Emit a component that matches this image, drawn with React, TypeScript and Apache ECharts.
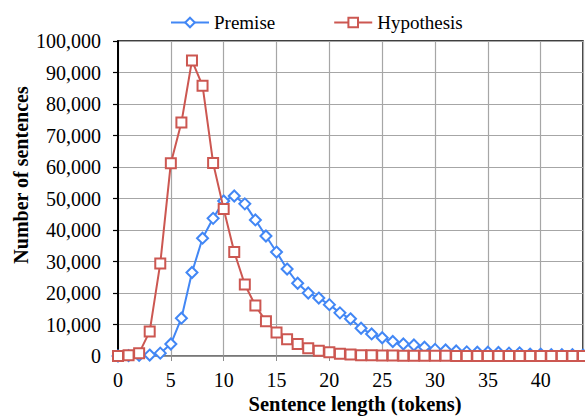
import React, { useEffect, useRef } from "react";
import * as echarts from "echarts";

const lengths = Array.from({ length: 45 }, (_, i) => i);
const premise = [
  0, 100, 200, 300, 900, 3800, 12000, 26500, 37400, 43700, 49200, 50800, 48300, 43200, 38100, 33000,
  27600, 23100, 20000, 18400, 16300, 13700, 11800, 8800, 7000, 5800, 4600, 3800, 3500, 2800, 2100,
  1900, 1600, 1300, 1200, 1200, 1100, 900, 1000, 600, 600, 400, 400, 400, 300,
];
const hypothesis = [
  0, 200, 900, 7800, 29400, 61200, 74100, 93800, 85800, 61300, 46700, 33000, 22700, 16000, 11000, 7500,
  5300, 3800, 2500, 1700, 1200, 700, 450, 250, 200, 150, 120, 100, 80, 60, 50, 40, 30, 30, 20, 20, 20,
  10, 10, 10, 10, 10, 10, 10, 10,
];
const xTicks = [0, 5, 10, 15, 20, 25, 30, 35, 40];

const FONT = "Liberation Serif";

export default function App() {
  const ref = useRef<HTMLDivElement>(null);
  useEffect(() => {
    const chart = echarts.init(ref.current!, null, { renderer: "svg" });
    chart.setOption({
      animation: false,
      backgroundColor: "#fff",
      textStyle: { fontFamily: FONT },
      legend: {
        left: 165,
        top: 8,
        itemWidth: 38,
        itemHeight: 12,
        itemGap: 58,
        textStyle: { fontFamily: FONT, fontSize: 19, color: "#000" },
        data: ["Premise", "Hypothesis"],
      },
      grid: {
        left: 118,
        right: 2,
        top: 41,
        bottom: 60,
        show: true,
        borderColor: "#000",
        borderWidth: 1.5,
      },
      xAxis: {
        type: "value",
        min: 0,
        max: 44,
        interval: 5,
        axisLine: { show: true, onZero: false, lineStyle: { color: "#8c8c8c", width: 1.5 } },
        axisTick: { show: true, length: 5, lineStyle: { color: "#8c8c8c" } },
        axisLabel: {
          showMaxLabel: false,
          margin: 14,
          fontFamily: FONT,
          fontSize: 20,
          color: "#000",
          formatter: (v: number) => (xTicks.includes(v) ? String(v) : ""),
        },
        splitLine: { show: true, lineStyle: { color: "#a6a6a6", width: 1.2 } },
      },
      yAxis: {
        type: "value",
        min: 0,
        max: 100000,
        interval: 10000,
        axisLine: { show: true, lineStyle: { color: "#000", width: 2 } },
        axisTick: { show: true, length: 5, lineStyle: { color: "#000", width: 1.2 } },
        axisLabel: {
          margin: 17,
          fontFamily: FONT,
          fontSize: 20,
          color: "#000",
          formatter: (v: number) => v.toLocaleString("en-US"),
        },
        splitLine: { show: true, lineStyle: { color: "#a6a6a6", width: 1.2 } },
      },
      graphic: [
        {
          type: "text",
          x: 355,
          y: 404,
          style: {
            text: "Sentence length (tokens)",
            font: `bold 20.5px ${FONT}`,
            fill: "#000",
            align: "center",
            verticalAlign: "middle",
          },
        },
        {
          type: "text",
          x: 21,
          y: 175,
          rotation: Math.PI / 2,
          style: {
            text: "Number of sentences",
            font: `bold 20px ${FONT}`,
            fill: "#000",
            align: "center",
            verticalAlign: "middle",
          },
        },
      ],
      series: [
        {
          name: "Premise",
          type: "line",
          data: lengths.map((x, i) => [x, premise[i]]),
          symbol: "diamond",
          symbolSize: 11,
          showAllSymbol: true,
          clip: false,
          itemStyle: { color: "#fff", borderColor: "#4287f5", borderWidth: 2 },
          lineStyle: { color: "#4287f5", width: 2 },
          z: 2,
        },
        {
          name: "Hypothesis",
          type: "line",
          data: lengths.map((x, i) => [x, hypothesis[i]]),
          symbol: "rect",
          symbolSize: 10,
          showAllSymbol: true,
          clip: false,
          itemStyle: { color: "#fff", borderColor: "#cc5751", borderWidth: 2 },
          lineStyle: { color: "#cc5751", width: 2 },
          z: 3,
        },
      ],
    });
    return () => chart.dispose();
  }, []);
  return (
    <div
      ref={ref}
      style={{ position: "fixed", left: 0, top: 0, width: 585, height: 416 }}
    />
  );
}
